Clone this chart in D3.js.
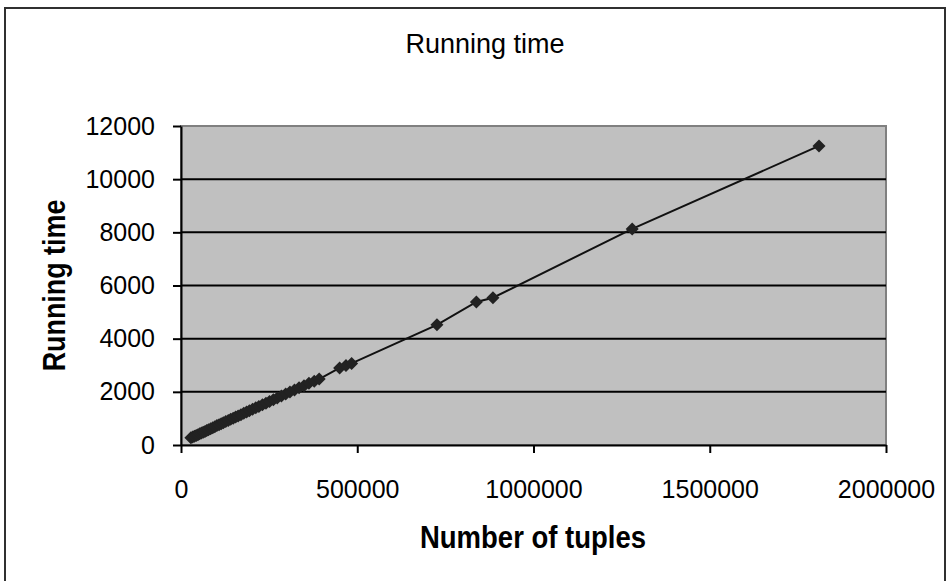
<!DOCTYPE html>
<html>
<head>
<meta charset="utf-8">
<script src="https://cdn.jsdelivr.net/npm/d3@7"></script>
<style>
  body { margin: 0; background: #fff; }
  svg text { font-family: "Liberation Sans", Arial, sans-serif; fill: #000; }
</style>
</head>
<body>
<svg id="chart"></svg>
<script>
// number of tuples vs running time
const tuples = [28000, 33000, 38000, 43000, 48000, 53000, 58000, 63000, 68000, 73000,
    78000, 84000, 90000, 96000, 102000, 108000, 114000, 120000, 127000, 134000,
    141000, 148000, 155000, 162000, 170000, 178000, 186000, 194000, 203000, 212000,
    221000, 231000, 241000, 251000, 262000, 273000, 285000, 297000, 309000, 322000,
    335000, 349000, 363000, 378000, 392000, 450000, 468000, 484000,
    726000, 838000, 885000, 1280000, 1810000];
const runningTime = [270, 300, 330, 360, 390, 420, 450, 480, 510, 545,
    575, 610, 650, 690, 730, 765, 800, 840, 880, 925,
    965, 1010, 1050, 1095, 1140, 1190, 1240, 1290, 1345, 1400,
    1450, 1510, 1570, 1640, 1700, 1770, 1840, 1920, 1990, 2070,
    2150, 2230, 2320, 2400, 2480, 2900, 2990, 3070,
    4520, 5380, 5540, 8130, 11250];
const xTicks = [0, 500000, 1000000, 1500000, 2000000];
const yTicks = [0, 2000, 4000, 6000, 8000, 10000, 12000];

const width = 948, height = 581;
const margin = { top: 126, right: 62, bottom: 136, left: 181 };

const svg = d3.select('#chart').attr('width', width).attr('height', height);

// outer chart frame
svg.append('rect')
    .attr('x', 5).attr('y', 8)
    .attr('width', 940).attr('height', 600)
    .attr('fill', 'none').attr('stroke', '#303030').attr('stroke-width', 2);

const x = d3.scaleLinear().domain([0, 2000000]).range([margin.left, width - margin.right]);
const y = d3.scaleLinear().domain([0, 12000]).range([height - margin.bottom, margin.top]);

// plot area
svg.append('rect')
    .attr('x', x(0)).attr('y', y(12000))
    .attr('width', x(2000000) - x(0)).attr('height', y(0) - y(12000))
    .attr('fill', '#c0c0c0').attr('stroke', '#808080').attr('stroke-width', 2);

// gridlines
svg.append('g')
    .selectAll('line')
    .data(yTicks.filter(d => d > 0 && d < 12000))
    .enter()
    .append('line')
    .attr('x1', x(0)).attr('x2', x(2000000))
    .attr('y1', d => y(d)).attr('y2', d => y(d))
    .attr('stroke', '#000').attr('stroke-width', 2);

const xAxis = svg.append('g')
    .attr('transform', `translate(0,${y(0)})`)
    .call(d3.axisBottom(x).tickValues(xTicks).tickFormat(d3.format('d')).tickSizeInner(8).tickSizeOuter(0).tickPadding(27));

const yAxis = svg.append('g')
    .attr('transform', `translate(${x(0)},0)`)
    .call(d3.axisLeft(y).tickValues(yTicks).tickFormat(d3.format('d')).tickSizeInner(8).tickSizeOuter(0).tickPadding(18));

[xAxis, yAxis].forEach(g => {
    g.select('.domain').attr('stroke', '#000').attr('stroke-width', 2);
    g.selectAll('.tick line').attr('stroke', '#000').attr('stroke-width', 2);
    g.selectAll('.tick text').attr('font-size', 25).attr('fill', '#000');
});

// series line and markers
const pts = tuples.map((t, i) => ({ t, r: runningTime[i] }));

svg.append('path')
    .datum(pts)
    .attr('fill', 'none')
    .attr('stroke', '#111')
    .attr('stroke-width', 2)
    .attr('d', d3.line().x(d => x(d.t)).y(d => y(d.r)));

svg.selectAll('.pt')
    .data(pts)
    .enter()
    .append('path')
    .attr('class', 'pt')
    .attr('transform', d => `translate(${x(d.t)},${y(d.r)})`)
    .attr('d', 'M0,-6.5L6.5,0L0,6.5L-6.5,0Z')
    .attr('fill', '#222');

// titles
svg.append('text')
    .attr('x', 485).attr('y', 53)
    .attr('text-anchor', 'middle')
    .attr('font-size', 27)
    .text('Running time');

svg.append('text')
    .attr('transform', 'translate(533,548) scale(0.86,1)')
    .attr('text-anchor', 'middle')
    .attr('font-size', 32).attr('font-weight', 'bold')
    .text('Number of tuples');

svg.append('text')
    .attr('transform', `translate(65,${(y(0) + y(12000)) / 2}) rotate(-90) scale(0.84,1)`)
    .attr('text-anchor', 'middle')
    .attr('font-size', 32).attr('font-weight', 'bold')
    .text('Running time');
</script>
</body>
</html>
